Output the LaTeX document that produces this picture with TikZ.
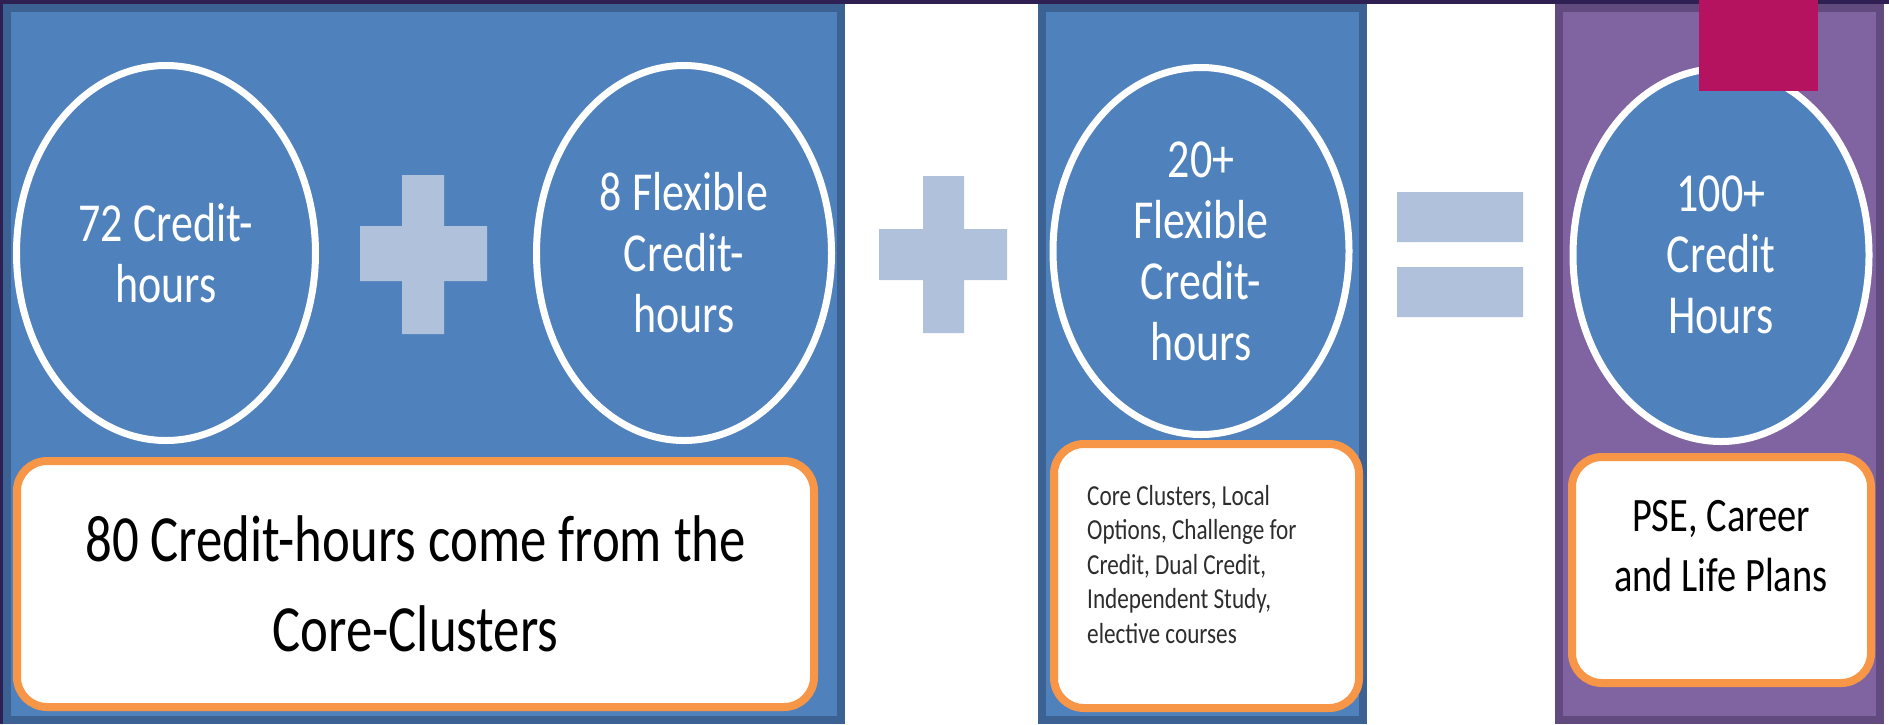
\documentclass[tikz,border=0pt]{standalone}
\usepackage{fontspec}
\setmainfont{Carlito}
\newfontfamily\etroite[FakeStretch=0.8]{Carlito}
\usepackage{tikz}
\usetikzlibrary{shapes.geometric}

\definecolor{bleu}{RGB}{79,129,189}
\definecolor{bordbleu}{RGB}{60,98,147}
\definecolor{bleuclair}{RGB}{176,193,220}
\definecolor{orangeb}{RGB}{247,150,70}
\definecolor{violetb}{RGB}{128,100,162}
\definecolor{bordviolet}{RGB}{96,74,126}
\definecolor{fond}{RGB}{46,32,82}
\definecolor{framboise}{RGB}{181,19,96}
\definecolor{gris}{RGB}{45,45,45}

\begin{document}
\begin{tikzpicture}[
    x=1pt, y=-1pt,
    panneau/.style={draw=bordbleu, line width=8pt, fill=bleu},
    cercle/.style={ellipse, draw=white, line width=7pt, fill=bleu, text=white,
      align=center, inner sep=0pt, font=\etroite\fontsize{55}{61}\selectfont},
    boite/.style={rectangle, rounded corners=30pt, draw=orangeb, line width=8pt,
      fill=white, inner sep=0pt, text=black},
  ]
  \useasboundingbox (0,0) rectangle (1889,724);
  \fill[white] (0,0) rectangle (1889,724);
  \fill[fond] (0,0) rectangle (1889,4);
  \fill[fond] (0,0) rectangle (3,724);

  % les trois colonnes
  \draw[panneau] (7,8) rectangle (841,720);
  \draw[panneau] (1042,8) rectangle (1363,720);
  \draw[panneau, draw=bordviolet, fill=violetb] (1559,8) rectangle (1880,720);

  \node[cercle, minimum width=299pt, minimum height=375pt] (c1) at (166,253) {72 Credit-\\hours};
  \node[cercle, minimum width=295pt, minimum height=375pt] (c2) at (684,253) {8 Flexible\\Credit-\\hours};
  \node[cercle, minimum width=296pt, minimum height=367pt] (c3) at (1201,251) {20+\\Flexible\\Credit-\\hours};
  \node[cercle, minimum width=296pt, minimum height=373pt] (c4) at (1721,255) {100+\\Credit\\Hours};

  \node[boite, minimum width=797pt, minimum height=246pt, align=center,
    font=\etroite\fontsize{66}{90}\selectfont] (b1) at (415.5,584)
    {80 Credit-hours come from the\\Core-Clusters};
  \node[boite, minimum width=305pt, minimum height=264pt] (b2) at (1206.5,576) {};
  \node[boite, minimum width=299pt, minimum height=226pt] (b4) at (1721.5,570) {};

  \node[anchor=north west, align=left, inner sep=0pt, text=gris,
    font=\etroite\fontsize{29}{34.5}\selectfont] (t2) at (1087,485)
    {Core Clusters, Local\\Options, Challenge for\\Credit, Dual Credit,\\Independent Study,\\elective courses};
  \node[align=center, inner sep=0pt, text=black,
    font=\etroite\fontsize{48}{60}\selectfont] (t4) at (1721,546)
    {PSE, Career\\and Life Plans};

  % signes
  \fill[bleuclair] (402,175) rectangle (444,334) (360,226) rectangle (487,281);
  \fill[bleuclair] (923,176) rectangle (964,333) (879,229) rectangle (1007,280);
  \fill[bleuclair] (1397,192) rectangle (1523,242) (1397,267) rectangle (1523,317);

  \fill[framboise] (1699,0) rectangle (1818,91);
\end{tikzpicture}
\end{document}
